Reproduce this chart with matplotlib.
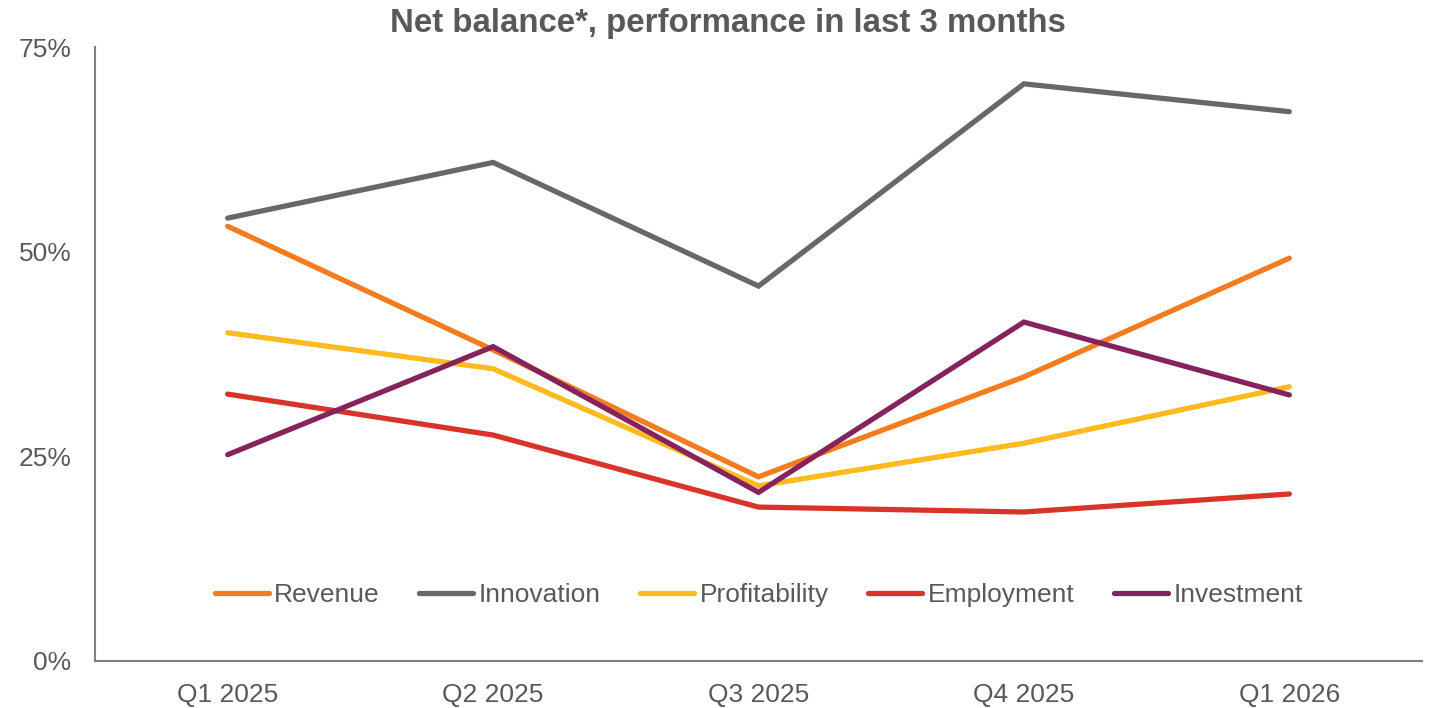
import matplotlib
matplotlib.use("Agg")
import matplotlib.pyplot as plt
from matplotlib.ticker import FuncFormatter

quarters = ['Q1 2025', 'Q2 2025', 'Q3 2025', 'Q4 2025', 'Q1 2026']
revenue = [53.1, 38.0, 22.5, 34.7, 49.2]
innovation = [54.1, 60.9, 45.8, 70.5, 67.1]
profitability = [40.1, 35.7, 21.4, 26.6, 33.5]
employment = [32.6, 27.6, 18.8, 18.2, 20.4]
investment = [25.2, 38.4, 20.6, 41.4, 32.5]

series = [('Revenue', revenue, '#F47C20'),
          ('Innovation', innovation, '#666967'),
          ('Profitability', profitability, '#FDBB1E'),
          ('Employment', employment, '#D8342A'),
          ('Investment', investment, '#85235D')]

plt.rcParams['font.family'] = ['Liberation Sans', 'DejaVu Sans']
txt = '#595959'

fig = plt.figure(figsize=(14.32, 7.08), dpi=100)
ax = fig.add_axes([95/1432, 1-661/708, (1422-95)/1432, (661-47)/708])

x = list(range(len(quarters)))
for name, vals, col in series:
    ax.plot(x, vals, color=col, lw=3.8, label=name, solid_joinstyle='miter',
            solid_capstyle='round')

ax.set_xlim(-0.5, 4.5)
ax.set_ylim(0, 75)
ax.set_yticks([0, 25, 50, 75])
ax.yaxis.set_major_formatter(FuncFormatter(lambda v, p: '%d%%' % v))
ax.set_xticks(x)
ax.set_xticklabels(quarters)
ax.tick_params(length=0, labelsize=19, colors=txt, pad=16)
ax.tick_params(axis='y', pad=17)
for s in ['top', 'right']:
    ax.spines[s].set_visible(False)
for s in ['left', 'bottom']:
    ax.spines[s].set_color('#7f7f7f')
    ax.spines[s].set_linewidth(1.5)

fig.suptitle('Net balance*, performance in last 3 months', fontsize=23.8,
             fontweight='bold', color=txt, x=0.508, y=0.988, va='top')

leg = ax.legend(ncol=5, loc='center', bbox_to_anchor=(0.5, 0.107), frameon=False,
                fontsize=19, handlelength=2.05, handletextpad=0.2, columnspacing=1.5)
for t in leg.get_texts():
    t.set_color(txt)

fig.savefig('out.png', dpi=100)
